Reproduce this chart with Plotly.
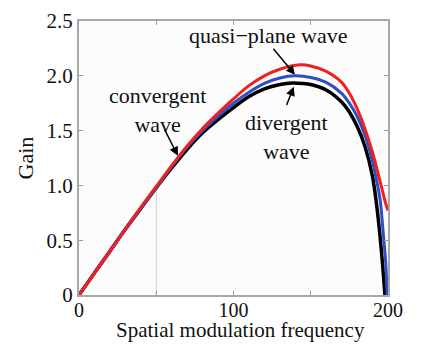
import plotly.graph_objects as go

# Divergent wave (black)
div_x = [0, 10, 20, 30, 40, 50, 60, 70, 80, 90, 100, 110, 120, 130, 138, 145, 150, 160, 170, 175, 180, 185, 190, 193, 196, 198]
div_y = [0, 0.20, 0.40, 0.60, 0.79, 0.98, 1.16, 1.33, 1.48, 1.60, 1.71, 1.81, 1.88, 1.92, 1.935, 1.93, 1.92, 1.87, 1.76, 1.67, 1.54, 1.36, 1.08, 0.78, 0.36, 0.0]

# Quasi-plane wave (blue)
qp_x = [0, 10, 20, 30, 40, 50, 60, 70, 80, 90, 100, 110, 120, 130, 140, 150, 160, 170, 175, 180, 185, 190, 193, 195, 197, 198.5, 199.5]
qp_y = [0, 0.20, 0.40, 0.60, 0.79, 0.98, 1.17, 1.35, 1.50, 1.63, 1.75, 1.85, 1.93, 1.98, 2.00, 1.985, 1.94, 1.84, 1.75, 1.63, 1.46, 1.22, 1.02, 0.86, 0.55, 0.30, 0.0]

# Convergent wave (red)
conv_x = [0, 10, 20, 30, 40, 50, 60, 70, 80, 90, 100, 110, 120, 130, 143, 150, 160, 170, 175, 180, 185, 190, 195, 198, 200]
conv_y = [0, 0.20, 0.40, 0.60, 0.80, 0.99, 1.18, 1.36, 1.52, 1.66, 1.79, 1.91, 2.00, 2.06, 2.10, 2.09, 2.04, 1.94, 1.84, 1.70, 1.52, 1.30, 1.03, 0.86, 0.77]

# faint guide line seen in the picture
guide_x = [50, 50]
guide_y = [0, 0.98]

x_ticks = [0, 50, 100, 150, 200]
x_tick_text = ["0", "", "100", "", "200"]
y_ticks = [0, 0.5, 1.0, 1.5, 2.0, 2.5]
y_tick_text = ["0", "0.5", "1.0", "1.5", "2.0", "2.5"]

FONT = "Liberation Serif, Times New Roman, serif"

fig = go.Figure()
fig.add_trace(go.Scatter(x=guide_x, y=guide_y, mode="lines",
                         line=dict(color="#d0d0d0", width=1), showlegend=False, hoverinfo="skip"))
fig.add_trace(go.Scatter(x=div_x, y=div_y, mode="lines", name="divergent wave",
                         line=dict(color="#000000", width=3.5, shape="spline", smoothing=0.8), showlegend=False))
fig.add_trace(go.Scatter(x=qp_x, y=qp_y, mode="lines", name="quasi-plane wave",
                         line=dict(color="#2e4fbf", width=3, shape="spline", smoothing=0.8), showlegend=False))
fig.add_trace(go.Scatter(x=conv_x, y=conv_y, mode="lines", name="convergent wave",
                         line=dict(color="#f02020", width=3, shape="spline", smoothing=0.8), showlegend=False))

txt = dict(family=FONT, size=22, color="#111111")
ann = []
ann.append(dict(x=122.5, y=2.37, xref="x", yref="y", text="quasi−plane wave",
                showarrow=False, font=txt))
ann.append(dict(x=51, y=1.69, xref="x", yref="y", text="convergent<br>wave",
                showarrow=False, font=txt))
ann.append(dict(x=134.6, y=1.44, xref="x", yref="y", text="divergent<br>wave",
                showarrow=False, font=txt))
# axis titles
ann.append(dict(x=0.524, y=0, xref="paper", yref="paper", yshift=-49, yanchor="bottom",
                text="Spatial modulation frequency", showarrow=False,
                font=dict(family=FONT, size=21, color="#111111")))
ann.append(dict(x=0, y=0.5, xref="paper", yref="paper", xshift=-54.5, xanchor="center",
                text="Gain", textangle=-90, showarrow=False,
                font=dict(family=FONT, size=22, color="#111111")))
# arrows
for (hx, hy, tx, ty) in [(139.8, 2.01, 125, 2.26), (64, 1.27, 55, 1.52), (139, 1.90, 134, 1.72)]:
    ann.append(dict(x=hx, y=hy, ax=tx, ay=ty, xref="x", yref="y", axref="x", ayref="y",
                    text="", showarrow=True, arrowhead=2, arrowsize=1.2, arrowwidth=1.5,
                    arrowcolor="#000000"))

fig.update_layout(
    width=421, height=344,
    margin=dict(l=79, r=33, t=21, b=49),
    paper_bgcolor="white", plot_bgcolor="#fcfcfc",
    font=dict(family=FONT, size=20, color="#111111"),
    annotations=ann,
)
fig.update_xaxes(range=[0, 200], tickvals=x_ticks, ticktext=x_tick_text,
                 ticks="inside", ticklen=4, tickcolor="#999999", tickwidth=1,
                 showline=True, linecolor="#a8a8a8", linewidth=2, mirror="ticks",
                 showgrid=False, zeroline=False, automargin=False, ticklabelstandoff=-4,
                 tickfont=dict(family=FONT, size=20))
fig.update_yaxes(range=[0, 2.5], tickvals=y_ticks, ticktext=y_tick_text,
                 ticks="inside", ticklen=4, tickcolor="#999999", tickwidth=1,
                 showline=True, linecolor="#a8a8a8", linewidth=2, mirror="ticks",
                 showgrid=False, zeroline=False, automargin=False,
                 tickfont=dict(family=FONT, size=21))

fig.write_html("out.html")
